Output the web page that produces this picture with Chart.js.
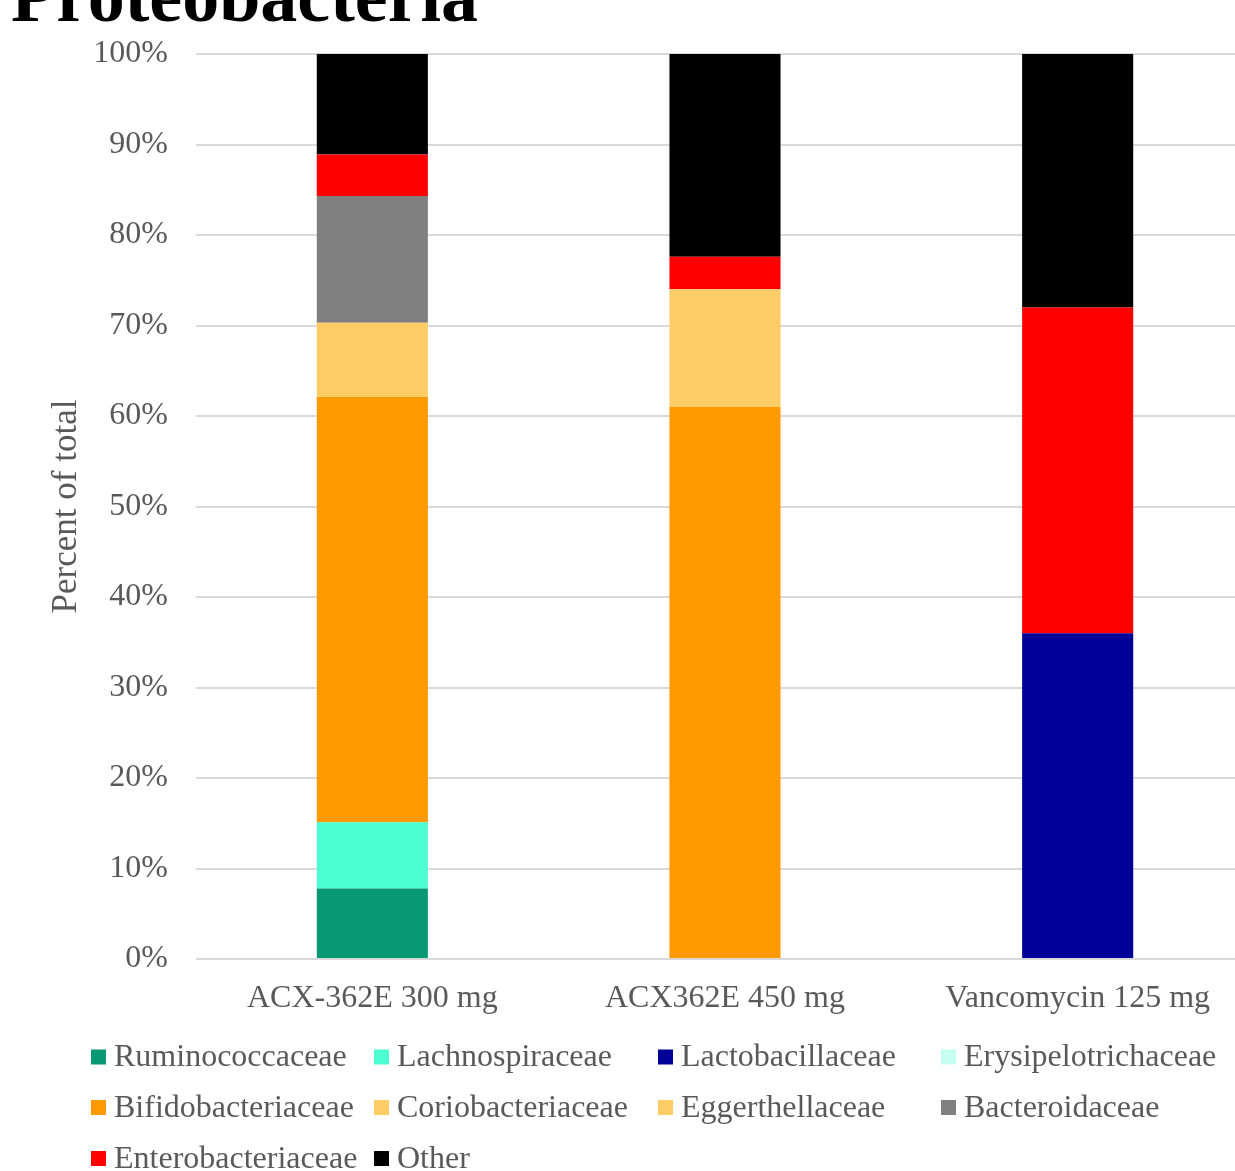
<!DOCTYPE html>
<html>
<head>
<meta charset="utf-8">
<title>Proteobacteria</title>
<script src="https://cdn.jsdelivr.net/npm/chart.js@4/dist/chart.umd.min.js"></script>
<style>
  html, body { margin: 0; padding: 0; background: #ffffff; overflow: hidden; }
  /* plot area runs slightly past the right edge of the page */
  #wrap { position: relative; width: 1254px; height: 1171px; }
</style>
</head>
<body>
<div id="wrap"><canvas id="chart"></canvas></div>
<script>
// Relative abundance (% of total) per treatment group
const categories = ['ACX-362E 300 mg', 'ACX362E 450 mg', 'Vancomycin 125 mg'];

const ruminococcaceae     = [7.8, 0, 0];
const lachnospiraceae     = [7.3, 0, 0];
const lactobacillaceae    = [0, 0, 36.0];
const erysipelotrichaceae = [0, 0, 0];
const bifidobacteriaceae  = [47.0, 61.0, 0];
const coriobacteriaceae   = [8.2, 13.0, 0];
const eggerthellaceae     = [0, 0, 0];
const bacteroidaceae      = [14.0, 0, 0];
const enterobacteriaceae  = [4.6, 3.6, 36.0];
const other               = [11.1, 22.4, 28.0];

const yTicks = [0, 10, 20, 30, 40, 50, 60, 70, 80, 90, 100];

const seriesNames = ['Ruminococcaceae', 'Lachnospiraceae', 'Lactobacillaceae', 'Erysipelotrichaceae',
  'Bifidobacteriaceae', 'Coriobacteriaceae', 'Eggerthellaceae', 'Bacteroidaceae',
  'Enterobacteriaceae', 'Other'];
const seriesData = [ruminococcaceae, lachnospiraceae, lactobacillaceae, erysipelotrichaceae,
  bifidobacteriaceae, coriobacteriaceae, eggerthellaceae, bacteroidaceae,
  enterobacteriaceae, other];
const seriesColors = ['#079874', '#4BFFD2', '#000099', '#C4FFF0',
  '#FF9900', '#FFCC66', '#FFCC66', '#808080',
  '#FF0000', '#000000'];

const TEXT = '#595959';
const SERIF = '"Liberation Serif", "Times New Roman", serif';

// Title drawn partly above the canvas edge
const titlePlugin = {
  id: 'topTitle',
  afterDraw(chart) {
    const ctx = chart.ctx;
    ctx.save();
    ctx.fillStyle = '#000000';
    ctx.font = 'bold 74px ' + SERIF;
    ctx.textAlign = 'left';
    ctx.textBaseline = 'alphabetic';
    ctx.fillText('Proteobacteria', 11, 21);
    ctx.restore();
  }
};

// Grid-aligned legend in four columns
const gridLegend = {
  id: 'gridLegend',
  afterDraw(chart) {
    const ctx = chart.ctx;
    const colX = [91, 374, 658, 941];
    const rowY = [1057, 1107.5, 1158.5];
    const box = 15;
    ctx.save();
    ctx.font = '32px ' + SERIF;
    ctx.textBaseline = 'middle';
    ctx.textAlign = 'left';
    chart.data.datasets.forEach((ds, i) => {
      const x = colX[i % 4];
      const y = rowY[Math.floor(i / 4)];
      ctx.fillStyle = ds.backgroundColor;
      ctx.fillRect(x, y - box / 2, box, box);
      ctx.fillStyle = TEXT;
      ctx.fillText(ds.label, x + box + 8, y + 1);
    });
    ctx.restore();
  }
};

const datasets = seriesNames.map((name, i) => ({
  label: name,
  data: seriesData[i],
  backgroundColor: seriesColors[i],
  borderWidth: 0,
  barPercentage: 0.315,
  categoryPercentage: 1.0
}));

new Chart(document.getElementById('chart'), {
  type: 'bar',
  data: { labels: categories, datasets },
  options: {
    responsive: true,
    maintainAspectRatio: false,
    animation: false,
    devicePixelRatio: 1,
    layout: { padding: { top: 54, left: 0, right: 0, bottom: 0 } },
    plugins: {
      legend: { display: false },
      title: { display: false },
      tooltip: { enabled: false }
    },
    scales: {
      x: {
        stacked: true,
        grid: { display: false, drawTicks: false },
        border: { display: false },
        ticks: {
          color: TEXT,
          font: { family: SERIF, size: 32 },
          padding: 20,
          maxRotation: 0,
          autoSkip: false
        },
        afterFit(scale) { scale.height = 212; }
      },
      y: {
        stacked: true,
        min: 0,
        max: 100,
        afterBuildTicks(scale) { scale.ticks = yTicks.map(v => ({ value: v })); },
        grid: { color: '#D9D9D9', lineWidth: 2, drawTicks: false },
        border: { display: false },
        ticks: {
          color: TEXT,
          font: { family: SERIF, size: 32 },
          padding: 28,
          callback: v => v + '%'
        },
        title: {
          display: true,
          text: 'Percent of total',
          color: TEXT,
          font: { family: SERIF, size: 35 },
          padding: { top: 46, bottom: 0 }
        },
        afterFit(scale) { scale.width = 196; }
      }
    }
  },
  plugins: [titlePlugin, gridLegend]
});
</script>
</body>
</html>
